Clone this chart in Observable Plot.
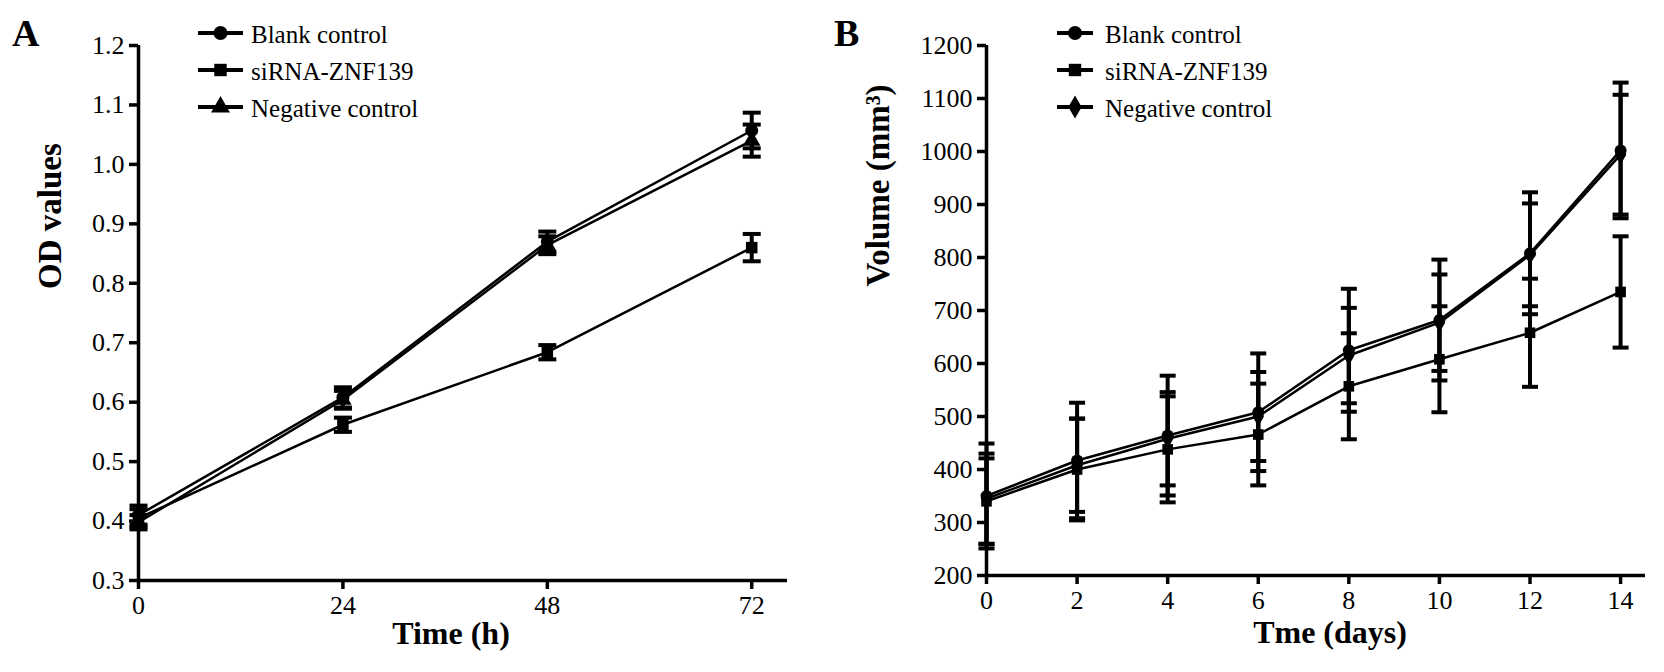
<!DOCTYPE html>
<html>
<head>
<meta charset="utf-8">
<script src="https://cdn.jsdelivr.net/npm/d3@7"></script>
<script src="https://cdn.jsdelivr.net/npm/@observablehq/plot@0.6"></script>
<style>
  body { margin: 0; background: white; }
  #page { position: relative; width: 1664px; height: 672px; overflow: hidden; font-family: "Liberation Serif", "Times New Roman", serif; }
  #chart_a, #chart_b { position: absolute; top: 0; }
  #chart_a { left: 0; }
  #chart_b { left: 832px; }
  #overlay { position: absolute; left: 0; top: 0; pointer-events: none; }
</style>
</head>
<body>
<div id="page">
  <div id="chart_a"></div>
  <div id="chart_b"></div>
  <svg id="overlay" width="1664" height="672"></svg>
</div>
<script>
// datos panel A (OD, horas)
const seriesA = ["Blank control", "siRNA-ZNF139", "Negative control"]
const symbolsA = ["circle", "square", "triangle"]
const hoursA = [0, 24, 48, 72]
const yTicksA = [0.3, 0.4, 0.5, 0.6, 0.7, 0.8, 0.9, 1.0, 1.1, 1.2]
const blankA = [0.410, 0.608, 0.870, 1.057]
const blankErrA = [0.016, 0.017, 0.017, 0.030]
const sirnaA = [0.405, 0.562, 0.684, 0.860]
const sirnaErrA = [0.015, 0.012, 0.012, 0.023]
const negA = [0.398, 0.604, 0.864, 1.040]
const negErrA = [0.012, 0.015, 0.015, 0.027]

// datos panel B (volumen, dias)
const seriesB = ["Blank control", "siRNA-ZNF139", "Negative control"]
const symbolsB = ["circle", "square", "diamond"]
const daysB = [0, 2, 4, 6, 8, 10, 12, 14]
const yTicksB = [200, 300, 400, 500, 600, 700, 800, 900, 1000, 1100, 1200]
const blankB = [350, 417, 464, 508, 625, 682, 808, 1002]
const blankErrB = [99, 109, 113, 111, 116, 114, 115, 128]
const sirnaB = [340, 400, 438, 466, 557, 608, 658, 735]
const sirnaErrB = [81, 96, 100, 96, 100, 100, 102, 105]
const negB = [345, 408, 458, 500, 615, 677, 805, 994]
const negErrB = [85, 88, 88, 84, 90, 91, 97, 113]

// simbolo para la tapa de la barra de error
const cap = {
  draw(ctx, size) {
    const w = Math.sqrt(size / Math.PI)
    ctx.moveTo(-w, 0)
    ctx.lineTo(w, 0)
  }
}

function rows(series, xs, values, errs) {
  const out = []
  series.forEach((s, i) => {
    xs.forEach((x, j) => {
      out.push({series: s, x: x, y: values[i][j], lo: values[i][j] - errs[i][j], hi: values[i][j] + errs[i][j]})
    })
  })
  return out
}

function panel(cfg) {
  const data = rows(cfg.series, cfg.xs, cfg.values, cfg.errs)
  return Plot.plot({
    width: 832,
    height: 672,
    marginLeft: cfg.marginLeft,
    marginRight: cfg.marginRight,
    marginTop: 45,
    marginBottom: cfg.marginBottom,
    style: {fontFamily: "Liberation Serif", fontSize: "26px", color: "black", background: "white"},
    x: {domain: cfg.xDomain},
    y: {domain: cfg.yDomain},
    symbol: {domain: cfg.series, range: cfg.symbols},
    marks: [
      Plot.axisX({ticks: cfg.xs, tickSize: 9, tickPadding: 6, strokeWidth: 3.5, label: null}),
      Plot.axisY({ticks: cfg.yTicks, tickFormat: cfg.yFormat, tickSize: 9, tickPadding: 5, strokeWidth: 3.5, label: null}),
      Plot.ruleX([cfg.xDomain[0]], {strokeWidth: 3.5}),
      Plot.ruleY([cfg.yDomain[0]], {strokeWidth: 3.5}),
      Plot.ruleX(data, {x: "x", y1: "lo", y2: "hi", strokeWidth: 4}),
      Plot.dot(data, {x: "x", y: "hi", symbol: cap, r: cfg.capR, stroke: "black", strokeWidth: 4, fill: "none"}),
      Plot.dot(data, {x: "x", y: "lo", symbol: cap, r: cfg.capR, stroke: "black", strokeWidth: 4, fill: "none"}),
      Plot.line(data, {x: "x", y: "y", z: "series", stroke: "black", strokeWidth: 2.5}),
      Plot.dot(data, {x: "x", y: "y", symbol: "series", r: cfg.dotR, fill: "black", stroke: "none"}),
      Plot.text([cfg.yLabel], {frameAnchor: "left", rotate: -90, dx: cfg.yLabelDx, dy: -24, fontWeight: "bold", fontSize: 33}),
      Plot.text([cfg.xLabel], {frameAnchor: "bottom", dy: cfg.xLabelDy, dx: cfg.xLabelDx, fontWeight: "bold", fontSize: 32})
    ]
  })
}

let chart_a = panel({
  series: seriesA, symbols: symbolsA, xs: hoursA,
  values: [blankA, sirnaA, negA], errs: [blankErrA, sirnaErrA, negErrA],
  xDomain: [0, 76.2], yDomain: [0.3, 1.2], yTicks: yTicksA, yFormat: d3.format(".1f"),
  marginLeft: 138, marginRight: 45, marginBottom: 92,
  capR: 9, dotR: 6.5,
  yLabel: "OD values", yLabelDx: -88,
  xLabel: "Time (h)", xLabelDx: -12, xLabelDy: 63
})
d3.select('#chart_a').append(() => chart_a)

let chart_b = panel({
  series: seriesB, symbols: symbolsB, xs: daysB,
  values: [blankB, sirnaB, negB], errs: [blankErrB, sirnaErrB, negErrB],
  xDomain: [0, 14.55], yDomain: [200, 1200], yTicks: yTicksB, yFormat: d3.format("d"),
  marginLeft: 154, marginRight: 19, marginBottom: 97,
  capR: 8, dotR: 6,
  yLabel: "Volume (mm³)", yLabelDx: -108,
  xLabel: "Tme (days)", xLabelDx: 14, xLabelDy: 67
})
d3.select('#chart_b').append(() => chart_b)

// etiquetas de panel y leyendas
const overlay = d3.select('#overlay')
  .style('font-family', '"Liberation Serif", "Times New Roman", serif')

overlay.append('text').attr('x', 12).attr('y', 46)
  .attr('font-size', 38).attr('font-weight', 'bold').text('A')
overlay.append('text').attr('x', 834).attr('y', 46)
  .attr('font-size', 38).attr('font-weight', 'bold').text('B')

const symbolType = {circle: d3.symbolCircle, square: d3.symbolSquare, triangle: d3.symbolTriangle, diamond: d3.symbolDiamond}

function legend(series, symbols, x0, x1, xText) {
  series.forEach((s, i) => {
    const cy = 33 + i * 37
    const g = overlay.append('g')
    g.append('line').attr('x1', x0).attr('x2', x1).attr('y1', cy).attr('y2', cy)
      .attr('stroke', 'black').attr('stroke-width', 4)
    g.append('path')
      .attr('transform', `translate(${(x0 + x1) / 2},${cy})`)
      .attr('d', d3.symbol().type(symbolType[symbols[i]]).size(Math.PI * 7 * 7)())
      .attr('fill', 'black')
    g.append('text').attr('x', xText).attr('y', cy + 10)
      .attr('font-size', 25).text(s)
  })
}
legend(seriesA, symbolsA, 198, 243, 251)
legend(seriesB, symbolsB, 1057, 1093, 1105)
</script>
</body>
</html>
